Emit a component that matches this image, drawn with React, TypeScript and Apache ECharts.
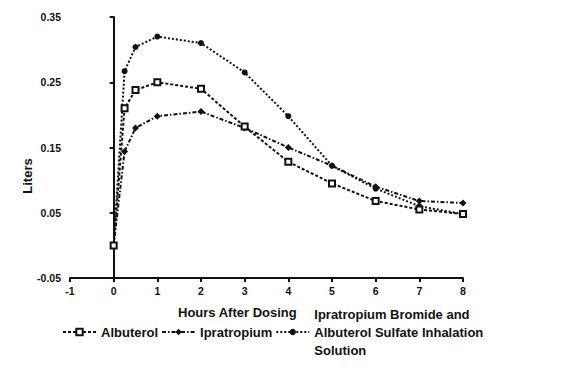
import React, { useEffect, useRef } from "react";
import * as echarts from "echarts";

const hours = [0, 0.25, 0.5, 1, 2, 3, 4, 5, 6, 7, 8];
const albuterol = [0, 0.21, 0.238, 0.25, 0.24, 0.182, 0.128, 0.095, 0.068, 0.055, 0.048];
const ipratropium = [0, 0.144, 0.18, 0.198, 0.205, 0.18, 0.15, 0.122, 0.09, 0.068, 0.065];
const combination = [0, 0.267, 0.304, 0.32, 0.31, 0.265, 0.198, 0.122, 0.087, 0.06, 0.048];
const seriesNames = [
  "Albuterol",
  "Ipratropium",
  "Ipratropium Bromide and Albuterol Sulfate Inhalation Solution",
];
const xTicks = { min: -1, max: 8, interval: 1 };
const yTicks = { min: -0.05, max: 0.35, interval: 0.1 };

const FONT = '"Liberation Sans", Arial, sans-serif';
const INK = "#111";

export default function App() {
  const ref = useRef<HTMLDivElement>(null);
  useEffect(() => {
    if (!ref.current) return;
    const chart = echarts.init(ref.current, null, { renderer: "svg" });
    const pair = (vals: number[]) => hours.map((h, i) => [h, vals[i]]);
    chart.setOption({
      animation: false,
      backgroundColor: "#fff",
      grid: { left: 70, right: 115, top: 17, bottom: 100, containLabel: false },
      xAxis: {
        type: "value",
        min: xTicks.min,
        max: xTicks.max,
        interval: xTicks.interval,
        splitLine: { show: false },
        axisLine: { onZero: false, lineStyle: { color: INK, width: 2 } },
        axisTick: { show: true, length: 4, lineStyle: { color: INK, width: 2 } },
        axisLabel: {
          color: INK,
          fontFamily: FONT,
          fontWeight: "bold",
          fontSize: 10.5,
          margin: 7,
        },
      },
      yAxis: {
        type: "value",
        min: yTicks.min,
        max: yTicks.max,
        interval: yTicks.interval,
        splitLine: { show: false },
        axisLine: { show: true, lineStyle: { color: INK, width: 2 } },
        axisTick: { show: true, length: 4, lineStyle: { color: INK, width: 2 } },
        axisLabel: {
          color: INK,
          fontFamily: FONT,
          fontWeight: "bold",
          fontSize: 10.5,
          margin: 9,
          formatter: (v: number) => v.toFixed(2),
        },
      },
      legend: {
        left: 62,
        top: 305,
        padding: 0,
        orient: "horizontal",
        itemWidth: 33,
        itemHeight: 8,
        itemGap: 3,
        data: seriesNames,
        textStyle: {
          color: INK,
          fontFamily: FONT,
          fontWeight: "bold",
          fontSize: 13,
          lineHeight: 18,
        },
        formatter: (name: string) =>
          name === seriesNames[2]
            ? "Ipratropium Bromide and\nAlbuterol Sulfate Inhalation\nSolution"
            : name,
      },
      graphic: [
        {
          type: "text",
          left: 178,
          top: 306,
          style: {
            text: "Hours After Dosing",
            fill: INK,
            font: `bold 13px ${FONT}`,
          },
        },
        {
          type: "text",
          x: 27,
          y: 176,
          rotation: Math.PI / 2,
          style: {
            text: "Liters",
            fill: INK,
            font: `bold 13px ${FONT}`,
            align: "center",
            verticalAlign: "middle",
          },
        },
      ],
      series: [
        {
          name: seriesNames[0],
          type: "line",
          data: pair(albuterol),
          symbol: "emptyRect",
          symbolSize: 6,
          lineStyle: { color: INK, width: 2, type: [3, 2] },
          itemStyle: { color: INK, borderColor: INK, borderWidth: 1.5 },
          z: 3,
        },
        {
          name: seriesNames[1],
          type: "line",
          data: pair(ipratropium),
          symbol: "diamond",
          symbolSize: 7,
          lineStyle: { color: INK, width: 2, type: [4, 2, 1.5, 2] },
          itemStyle: { color: INK },
          z: 2,
        },
        {
          name: seriesNames[2],
          type: "line",
          data: pair(combination),
          symbol: "circle",
          symbolSize: 6,
          lineStyle: { color: INK, width: 2, type: [2, 2] },
          itemStyle: { color: INK },
          z: 2,
        },
      ],
    });
    return () => chart.dispose();
  }, []);
  return (
    <div
      ref={ref}
      style={{ position: "fixed", left: 0, top: 0, width: 578, height: 378, background: "#fff" }}
    />
  );
}
